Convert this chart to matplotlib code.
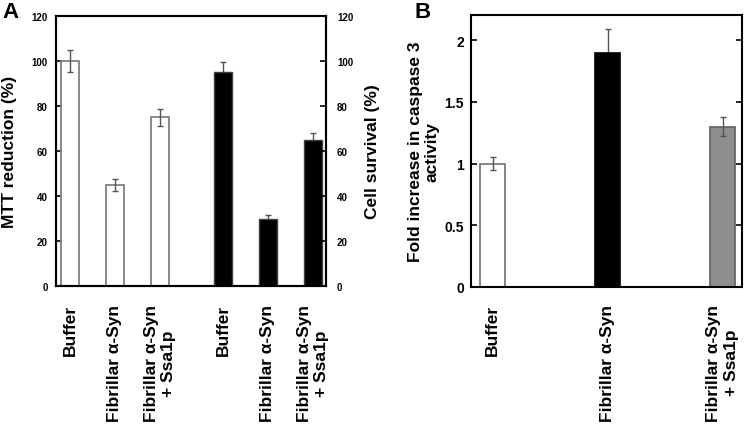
import matplotlib
matplotlib.use("Agg")
import matplotlib.pyplot as plt

plt.rcParams['font.family'] = ['Liberation Sans', 'DejaVu Sans']
plt.rcParams['font.weight'] = 'bold'

# Panel A data
a_labels = ["Buffer", "Fibrillar α-Syn", "Fibrillar α-Syn\n+ Ssa1p",
            "Buffer", "Fibrillar α-Syn", "Fibrillar α-Syn\n+ Ssa1p"]
a_pos = [0, 1, 2, 3.4, 4.4, 5.4]
a_mtt = [100, 45, 75]
a_mtt_err = [5, 2.6, 3.7]
a_surv = [95, 30, 65]
a_surv_err = [4.7, 1.5, 3.2]
a_yticks = [0, 20, 40, 60, 80, 100, 120]

# Panel B data
b_labels = ["Buffer", "Fibrillar α-Syn", "Fibrillar α-Syn\n+ Ssa1p"]
b_pos = [0, 1, 2]
b_vals = [1.0, 1.9, 1.3]
b_err = [0.05, 0.19, 0.077]
b_colors = ["white", "black", "#8e8e8e"]
b_edges = ["#707070", "black", "#606060"]
b_yticks = [0, 0.5, 1, 1.5, 2]
b_yticklabels = ["0", "0.5", "1", "1.5", "2"]

W, H = 745, 427
fig = plt.figure(figsize=(W / 100, H / 100), dpi=100)

def frac(l, t, r, b):
    return [l / W, 1 - b / H, (r - l) / W, (b - t) / H]

lab_fs = 12.5
ecol = "#555555"

# ---------- Panel A ----------
axA = fig.add_axes(frac(56, 17, 326, 287))
axA.bar(a_pos[:3], a_mtt, width=0.4, color="white", edgecolor="#808080",
        linewidth=1.3, zorder=2)
axA.errorbar(a_pos[:3], a_mtt, yerr=a_mtt_err, fmt="none", ecolor=ecol,
             elinewidth=1.0, capsize=2, capthick=1.0, zorder=3)
axA.bar(a_pos[3:], a_surv, width=0.4, color="black", edgecolor="#404040",
        linewidth=1.0, zorder=2)
axA.errorbar(a_pos[3:], a_surv, yerr=a_surv_err, fmt="none", ecolor=ecol,
             elinewidth=1.0, capsize=2, capthick=1.0, zorder=1)
axA.set_xlim(-0.311, 5.69)
axA.set_ylim(0, 120)
axA.set_yticks(a_yticks)
axA.set_yticklabels([str(v) for v in a_yticks], fontsize=7, fontweight='bold')
axA.set_xticks(a_pos)
axA.set_xticklabels(a_labels, rotation=90, fontsize=lab_fs, fontweight='bold',
                    va='top', ha='center', multialignment='center')
axA.tick_params(axis='x', length=0, pad=13)
axA.tick_params(axis='y', direction='in', length=4, width=1.2, pad=6)
for s in axA.spines.values():
    s.set_linewidth(1.5)

axA2 = axA.twinx()
axA2.set_ylim(0, 120)
axA2.set_yticks(a_yticks)
axA2.set_yticklabels([str(v) for v in a_yticks], fontsize=7, fontweight='bold')
axA2.tick_params(axis='y', direction='in', length=4, width=1.2, pad=8)
for s in axA2.spines.values():
    s.set_linewidth(1.5)

fig.text(10 / W, 1 - 152 / H, "MTT reduction (%)", rotation=90, ha='center',
         va='center', fontsize=lab_fs, fontweight='bold')
fig.text(372 / W, 1 - 152 / H, "Cell survival (%)", rotation=90, ha='center',
         va='center', fontsize=lab_fs, fontweight='bold')
fig.text(2 / W, 1 - 2 / H, "A", ha='left', va='top', fontsize=16, fontweight='bold')

# ---------- Panel B ----------
axB = fig.add_axes(frac(471, 16, 742, 288))
axB.bar(b_pos, b_vals, width=0.217, color=b_colors, edgecolor=b_edges,
        linewidth=1.2, zorder=2)
# error bars: the one on the black bar sits behind it (only upper half visible)
for i in range(len(b_pos)):
    axB.errorbar([b_pos[i]], [b_vals[i]], yerr=[b_err[i]], fmt="none",
                 ecolor="#555555", elinewidth=1.0, capsize=2, capthick=1.0,
                 zorder=1 if b_colors[i] == "black" else 3)
axB.set_xlim(-0.189, 2.168)
axB.set_ylim(0, 2.205)
axB.set_yticks(b_yticks)
axB.set_yticklabels(b_yticklabels, fontsize=10, fontweight='bold')
axB.set_xticks(b_pos)
axB.set_xticklabels(b_labels, rotation=90, fontsize=lab_fs, fontweight='bold',
                    va='top', ha='center', multialignment='center')
axB.tick_params(axis='x', length=0, pad=12)
axB.tick_params(axis='y', direction='in', length=4, width=1.2, pad=5,
                right=True, labelright=False)
for s in axB.spines.values():
    s.set_linewidth(1.5)

fig.text(424 / W, 1 - 152 / H, "Fold increase in caspase 3\nactivity", rotation=90,
         ha='center', va='center', fontsize=lab_fs, fontweight='bold',
         multialignment='center', linespacing=1.15)
fig.text(414 / W, 1 - 2 / H, "B", ha='left', va='top', fontsize=16, fontweight='bold')

fig.savefig("out.png", dpi=100)
